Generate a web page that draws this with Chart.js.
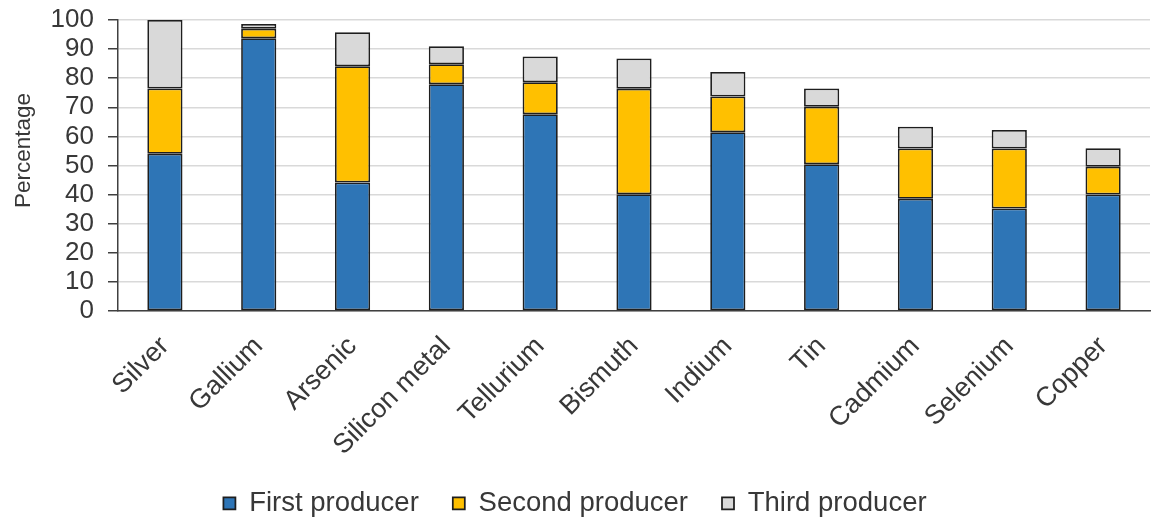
<!DOCTYPE html>
<html>
<head>
<meta charset="utf-8">
<script src="https://cdn.jsdelivr.net/npm/chart.js@4/dist/chart.umd.min.js"></script>
<style>
  html, body { margin: 0; padding: 0; background: #ffffff; }
  #wrap { width: 1151px; height: 519px; position: relative; }
</style>
</head>
<body>
<div id="wrap"><canvas id="chart"></canvas></div>
<script>
// Materials and the share (%) of world production held by the top three producers
const materials = ['Silver', 'Gallium', 'Arsenic', 'Silicon metal', 'Tellurium', 'Bismuth',
                   'Indium', 'Tin', 'Cadmium', 'Selenium', 'Copper'];
const firstProducer  = [54.0, 93.7, 44.2, 77.9, 67.6, 40.1, 61.4, 50.4, 38.6, 35.2, 40.0];
const secondProducer = [22.5,  3.3, 39.9,  6.9, 11.0, 36.3, 12.3, 19.8, 17.2, 20.6,  9.6];
const thirdProducer  = [23.5,  1.6, 11.7,  6.2,  8.9, 10.4,  8.4,  6.3,  7.5,  6.4,  6.3];
const yTicks = [0, 10, 20, 30, 40, 50, 60, 70, 80, 90, 100];

const FONT = "'Liberation Sans', Arial, sans-serif";
const TEXT = '#383838';

// Axis title drawn rotated beside the value axis
const axisTitle = {
  id: 'axisTitle',
  afterDraw(chart) {
    const { ctx, chartArea } = chart;
    ctx.save();
    ctx.font = '22.5px ' + FONT;
    ctx.fillStyle = TEXT;
    ctx.textAlign = 'center';
    ctx.textBaseline = 'middle';
    ctx.translate(24, (chartArea.top + chartArea.bottom) / 2 - 15);
    ctx.rotate(-Math.PI / 2);
    ctx.fillText('Percentage', 0, 0);
    ctx.restore();
  }
};

const seg = (label, data, color) => ({
  label, data,
  backgroundColor: color,
  borderColor: '#1e1e1e',
  borderWidth: 1.75,
  borderSkipped: false,
  barPercentage: 0.375,
  categoryPercentage: 1.0
});

new Chart(document.getElementById('chart'), {
  type: 'bar',
  data: {
    labels: materials,
    datasets: [
      seg('First producer', firstProducer, '#2E75B6'),
      seg('Second producer', secondProducer, '#FFC000'),
      seg('Third producer', thirdProducer, '#D9D9D9')
    ]
  },
  plugins: [axisTitle],
  options: {
    responsive: true,
    maintainAspectRatio: false,
    animation: false,
    layout: { padding: { top: 20, right: 1, left: 0, bottom: -8 } },
    plugins: {
      tooltip: { enabled: false },
      legend: {
        position: 'bottom',
        labels: {
          font: { family: FONT, size: 27.5 },
          color: TEXT,
          boxWidth: 12,
          boxHeight: 12,
          padding: 34,
          useBorderRadius: false
        }
      }
    },
    scales: {
      x: {
        stacked: true,
        grid: { display: false, drawTicks: false },
        border: { display: true, color: '#404040', width: 1.5 },
        ticks: {
          font: { family: FONT, size: 27 },
          color: TEXT,
          minRotation: 45,
          maxRotation: 45,
          padding: 19.5,
          autoSkip: false
        },
        afterFit(scale) { scale.height = 144.5; }
      },
      y: {
        stacked: true,
        min: 0,
        max: 100,
        afterBuildTicks(scale) { scale.ticks = yTicks.map(v => ({ value: v })); },
        grid: { color: '#D9D9D9', lineWidth: 1.5, tickLength: 10, tickColor: '#404040', tickWidth: 1.5 },
        border: { display: true, color: '#404040', width: 1.5 },
        ticks: { font: { family: FONT, size: 26, lineHeight: 0.45 }, color: TEXT, padding: 14, autoSkip: false },
        afterFit(scale) { scale.width = 118; }
      }
    }
  }
});
</script>
</body>
</html>
